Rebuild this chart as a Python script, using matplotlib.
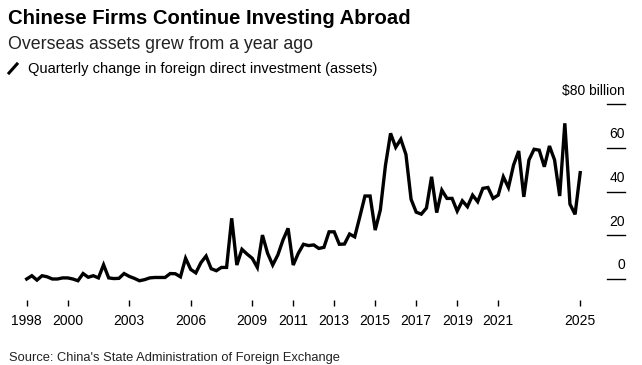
import matplotlib
matplotlib.use('Agg')
import matplotlib.pyplot as plt
import matplotlib.lines as mlines
import numpy as np

# quarterly change in FDI assets, $ billion, 1998Q1 .. 2025Q1
fdi_change = [
    0, 1.5, -0.5, 1.5, 1.0, 0, 0, 0.5,
    0.5, 0, -0.8, 2.5, 0.8, 1.5, 0.5, 6.5,
    0.5, 0.2, 0.3, 2.5, 1.2, 0.3, -0.8, -0.3,
    0.5, 0.7, 0.7, 0.7, 2.5, 2.4, 1.0, 9.5,
    4.4, 2.8, 7.5, 10.5, 4.7, 3.8, 5.3, 5.3,
    27.8, 6.4, 13.6, 11.4, 9.5, 5.3, 20.1, 11.8,
    6.4, 11.0, 17.8, 23.2, 6.4, 11.8, 15.9, 15.3,
    15.6, 14.0, 14.5, 21.6, 21.6, 15.9, 16.0, 20.6,
    19.3, 28.5, 38.0, 38.0, 22.4, 31.6, 52.0, 66.7,
    60.3, 64.0, 57.0, 36.5, 30.6, 29.7, 32.5, 46.8,
    30.4, 40.7, 36.9, 36.9, 31.1, 35.8, 33.1, 38.4,
    35.4, 41.5, 41.9, 36.9, 38.4, 46.8, 41.9, 52.2,
    58.6, 37.6, 54.5, 59.4, 59.0, 51.4, 60.9, 54.5,
    38.0, 71.3, 34.3, 29.6, 48.7,
]
start_year = 1998
x_ticks = [1998, 2000, 2003, 2006, 2009, 2011, 2013, 2015, 2017, 2019, 2021, 2025]
y_ticks = [0, 20, 40, 60, 80]
y_labels = ['0', '20', '40', '60', '\\$80 billion']

quarters = start_year + np.arange(len(fdi_change)) / 4

W, H = 642, 365
fig = plt.figure(figsize=(W / 100, H / 100), dpi=100)
plt.rcParams['font.family'] = ['Liberation Sans', 'DejaVu Sans']

# axes box in pixels: left 20, right 625, top 100, bottom 300
ax = fig.add_axes([20 / W, 1 - 300 / H, 605 / W, 200 / H])
px_year = 20.5
px_unit = 2.184
ax.set_xlim(1998 - 6.7 / px_year, 1998 + (625 - 26.7) / px_year)
ax.set_ylim(-(300 - 279) / px_unit, (279 - 100) / px_unit)

ax.plot(quarters, fdi_change, color='black', lw=2.4, solid_joinstyle='miter')

for s in ax.spines.values():
    s.set_visible(False)
ax.set_yticks([])
ax.set_xticks(x_ticks)
ax.set_xticklabels([str(t) for t in x_ticks])
ax.tick_params(axis='x', length=4.3, width=1, color='black', pad=6,
               labelsize=10, labelcolor='black')

# right-hand value scale: short rules with labels sitting above
trans = ax.get_yaxis_transform()
for v, lab in zip(y_ticks, y_labels):
    ax.plot([0.970, 1.0], [v, v], color='black', lw=1, transform=trans, clip_on=False)
    ax.annotate(lab, xy=(1.0, v), xycoords=trans, xytext=(0, 7),
                textcoords='offset points', ha='right', va='baseline',
                fontsize=10, color='black')

fig.text(8 / W, 1 - 24 / H, 'Chinese Firms Continue Investing Abroad',
         fontsize=14.6, fontweight='bold', va='baseline', ha='left')
fig.text(8 / W, 1 - 49 / H, 'Overseas assets grew from a year ago',
         fontsize=12.8, va='baseline', ha='left', color='#222222')
fig.add_artist(mlines.Line2D([9 / W, 17 / W], [1 - 73 / H, 1 - 64 / H],
                             color='black', lw=2.2, transform=fig.transFigure))
fig.text(28 / W, 1 - 73 / H, 'Quarterly change in foreign direct investment (assets)',
         fontsize=10.5, va='baseline', ha='left')
fig.text(9 / W, 1 - 361 / H, "Source: China's State Administration of Foreign Exchange",
         fontsize=9.3, va='baseline', ha='left', color='#222222')

fig.savefig('out.png', dpi=100, facecolor='white')
